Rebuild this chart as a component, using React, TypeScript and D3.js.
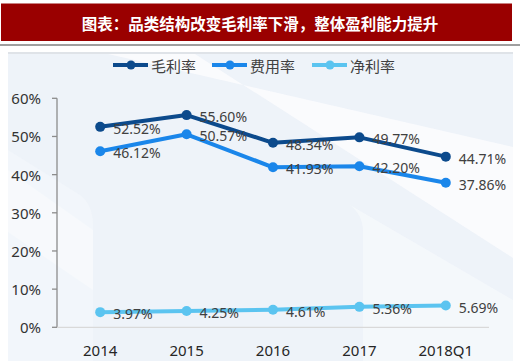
import React from 'react';
import * as d3 from 'd3';

const categories = ['2014', '2015', '2016', '2017', '2018Q1'];
const grossMargin = [52.52, 55.6, 48.34, 49.77, 44.71];
const expenseRate = [46.12, 50.57, 41.93, 42.2, 37.86];
const netMargin = [3.97, 4.25, 4.61, 5.36, 5.69];
const yTicks = [0, 10, 20, 30, 40, 50, 60];
const seriesNames = ['毛利率', '费用率', '净利率'];
const seriesColors = ['#0c4a8c', '#1a86ea', '#5bc4f0'];
const title = '图表：品类结构改变毛利率下滑，整体盈利能力提升';

const W = 520, H = 363;
const font = '"Noto Sans", "Noto Sans CJK SC", sans-serif';

export default function App() {
  const x = d3.scaleBand<string>().domain(categories).range([57, 489]);
  const y = d3.scaleLinear().domain([0, 60]).range([327.3, 98.3]);
  const cx = (c: string) => (x(c) as number) + x.bandwidth() / 2;
  const line = d3.line<number>()
    .x((_, i) => cx(categories[i]))
    .y(d => y(d));
  const series = [grossMargin, expenseRate, netMargin];
  const legendX = [113, 212, 312];

  return (
    <svg width={W} height={H} style={{ position: 'absolute', left: 0, top: 0, background: '#fff' }}>
      {/* title bar */}
      <rect x={1} y={3} width={511} height={1} fill="#c98080" />
      <rect x={1} y={4} width={511} height={37} fill="#9a0000" />
      <text x={260} y={23} textAnchor="middle" dominantBaseline="central" fill="#fff"
        fontFamily='"Noto Sans CJK SC", sans-serif' fontWeight="bold" fontSize={15.5}>{title}</text>
      <line x1={0} x2={W} y1={45} y2={45} stroke="#7f7f7f" strokeWidth={1.5} />

      {/* background panel */}
      <rect x={8} y={52} width={505} height={309} fill="#eef3f9" />
      <rect x={8} y={52} width={505} height={2} fill="#dfe3e8" />
      <polygon points="108,54 195,54 513,258 513,147" fill="#fbfcfe" opacity={0.85} />
      <polygon points="8,170 8,232 93,290 93,230" fill="#fbfcfe" opacity={0.8} />
      <path d="M93,361 L93,225 Q93,205 80,195 L8,150 L8,361 Z" fill="#f5f8fc" opacity={0.6} />
      <path d="M363,361 L363,232 Q363,215 350,205 L513,300 L513,361 Z" fill="#f7f9fc" opacity={0.7} />

      {/* legend */}
      {seriesNames.map((n, i) => (
        <g key={n}>
          <line x1={legendX[i]} x2={legendX[i] + 35} y1={65} y2={65} stroke={seriesColors[i]} strokeWidth={4} />
          <circle cx={legendX[i] + 18} cy={65} r={4.5} fill={seriesColors[i]} />
          <text x={legendX[i] + 38} y={65} dominantBaseline="central" fontSize={15}
            fontFamily='"Noto Sans CJK SC", sans-serif' fill="#404040">{n}</text>
        </g>
      ))}

      {/* axes */}
      <line x1={57} x2={57} y1={y(60)} y2={y(0)} stroke="#8c8c8c" strokeWidth={1.3} />
      <line x1={57} x2={489} y1={y(0)} y2={y(0)} stroke="#d9d9d9" strokeWidth={1.3} />
      {yTicks.map(t => (
        <g key={t}>
          <line x1={52} x2={57} y1={y(t)} y2={y(t)} stroke="#8c8c8c" strokeWidth={1.3} />
          <text x={41} y={y(t)} textAnchor="end" dominantBaseline="central" fontSize={15}
            fontFamily={font} fill="#333">{t + '%'}</text>
        </g>
      ))}
      {categories.map(c => (
        <text key={c} x={cx(c)} y={350} textAnchor="middle" dominantBaseline="central" fontSize={15}
          fontFamily={font} fill="#262626">{c}</text>
      ))}

      {/* series */}
      {series.map((s, si) => (
        <g key={si}>
          <path d={line(s) as string} fill="none" stroke={seriesColors[si]} strokeWidth={4} strokeLinejoin="round" />
          {s.map((v, i) => (
            <circle key={i} cx={cx(categories[i])} cy={y(v)} r={5} fill={seriesColors[si]} />
          ))}
        </g>
      ))}
      {series.map((s, si) => s.map((v, i) => (
        <text key={si + '-' + i} x={cx(categories[i]) + 13} y={y(v) + 1.5} dominantBaseline="central"
          fontSize={14} fontFamily={font} fill="#404040">{v.toFixed(2) + '%'}</text>
      )))}
    </svg>
  );
}
